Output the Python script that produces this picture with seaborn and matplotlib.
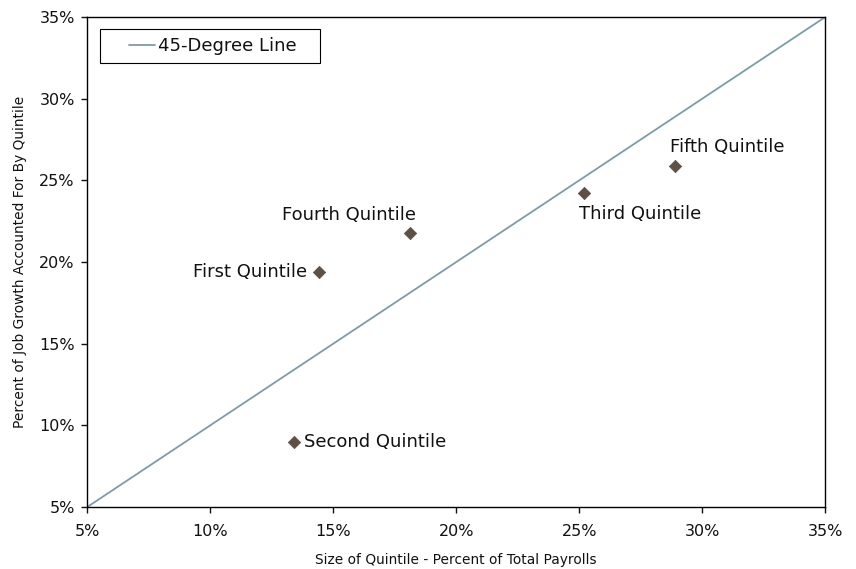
import matplotlib
matplotlib.use("Agg")
import matplotlib.pyplot as plt
import seaborn as sns
import pandas as pd
from matplotlib.patches import Rectangle
from matplotlib.ticker import FuncFormatter, MultipleLocator

# Data
quintiles = ["First Quintile", "Second Quintile", "Third Quintile",
             "Fourth Quintile", "Fifth Quintile"]
payroll_share = [14.4, 13.4, 25.2, 18.1, 28.9]
growth_share = [19.4, 9.0, 24.2, 21.8, 25.9]
diag = [5, 35]

df = pd.DataFrame({"quintile": quintiles, "x": payroll_share, "y": growth_share})
line_df = pd.DataFrame({"x": diag, "y": diag})

sns.set_style("white")
plt.rcParams["font.family"] = ["DejaVu Sans"]
plt.rcParams["text.color"] = "#111111"
plt.rcParams["axes.labelcolor"] = "#111111"

fig, ax = plt.subplots(figsize=(8.56, 5.69), dpi=100)
fig.subplots_adjust(left=0.102, right=0.964, top=0.970, bottom=0.109)

sns.lineplot(data=line_df, x="x", y="y", ax=ax, color="#7f9aab",
             linewidth=1.3, label="45-Degree Line")
sns.scatterplot(data=df, x="x", y="y", ax=ax, marker="D", s=40,
                color="#5e5045", edgecolor="#5e5045", zorder=3)

# point labels (offsets in points)
offsets = {
    "First Quintile": (-8, 0, "right", "center"),
    "Second Quintile": (7, 0, "left", "center"),
    "Third Quintile": (-4, -8, "left", "top"),
    "Fourth Quintile": (5, 6, "right", "bottom"),
    "Fifth Quintile": (-4, 7, "left", "bottom"),
}
for q, xv, yv in zip(quintiles, payroll_share, growth_share):
    dx, dy, ha, va = offsets[q]
    ax.annotate(q, (xv, yv), textcoords="offset points", xytext=(dx, dy),
                ha=ha, va=va, fontsize=13, color="#111111")

ax.set_xlim(5, 35)
ax.set_ylim(5, 35)
ax.xaxis.set_major_locator(MultipleLocator(5))
ax.yaxis.set_major_locator(MultipleLocator(5))
pct = FuncFormatter(lambda v, p: f"{int(round(v))}%")
ax.xaxis.set_major_formatter(pct)
ax.yaxis.set_major_formatter(pct)
ax.tick_params(axis="both", direction="out", length=4, width=1, labelsize=11.5,
               colors="#111111", bottom=True, left=True)
ax.tick_params(axis="x", pad=8)
ax.tick_params(axis="y", pad=5)
ax.set_xlabel("Size of Quintile - Percent of Total Payrolls", fontsize=9.9, labelpad=10)
ax.set_ylabel("Percent of Job Growth Accounted For By Quintile", fontsize=9.9, labelpad=9)
for s in ax.spines.values():
    s.set_color("black")
    s.set_linewidth(1)

# legend: own box (wider side padding than matplotlib's frame gives)
leg = ax.legend(loc="center left", fontsize=13, frameon=False,
                handlelength=1.4, handletextpad=0.2, borderpad=0,
                borderaxespad=0, bbox_to_anchor=(0.057, 0.941))
for t in leg.get_texts():
    t.set_color("#111111")
ax.add_patch(Rectangle((0.0176, 0.906), 0.298, 0.0695, transform=ax.transAxes,
                       facecolor="white", edgecolor="black", linewidth=0.8,
                       zorder=4))
leg.set_zorder(5)

plt.savefig("out.png", dpi=100)
